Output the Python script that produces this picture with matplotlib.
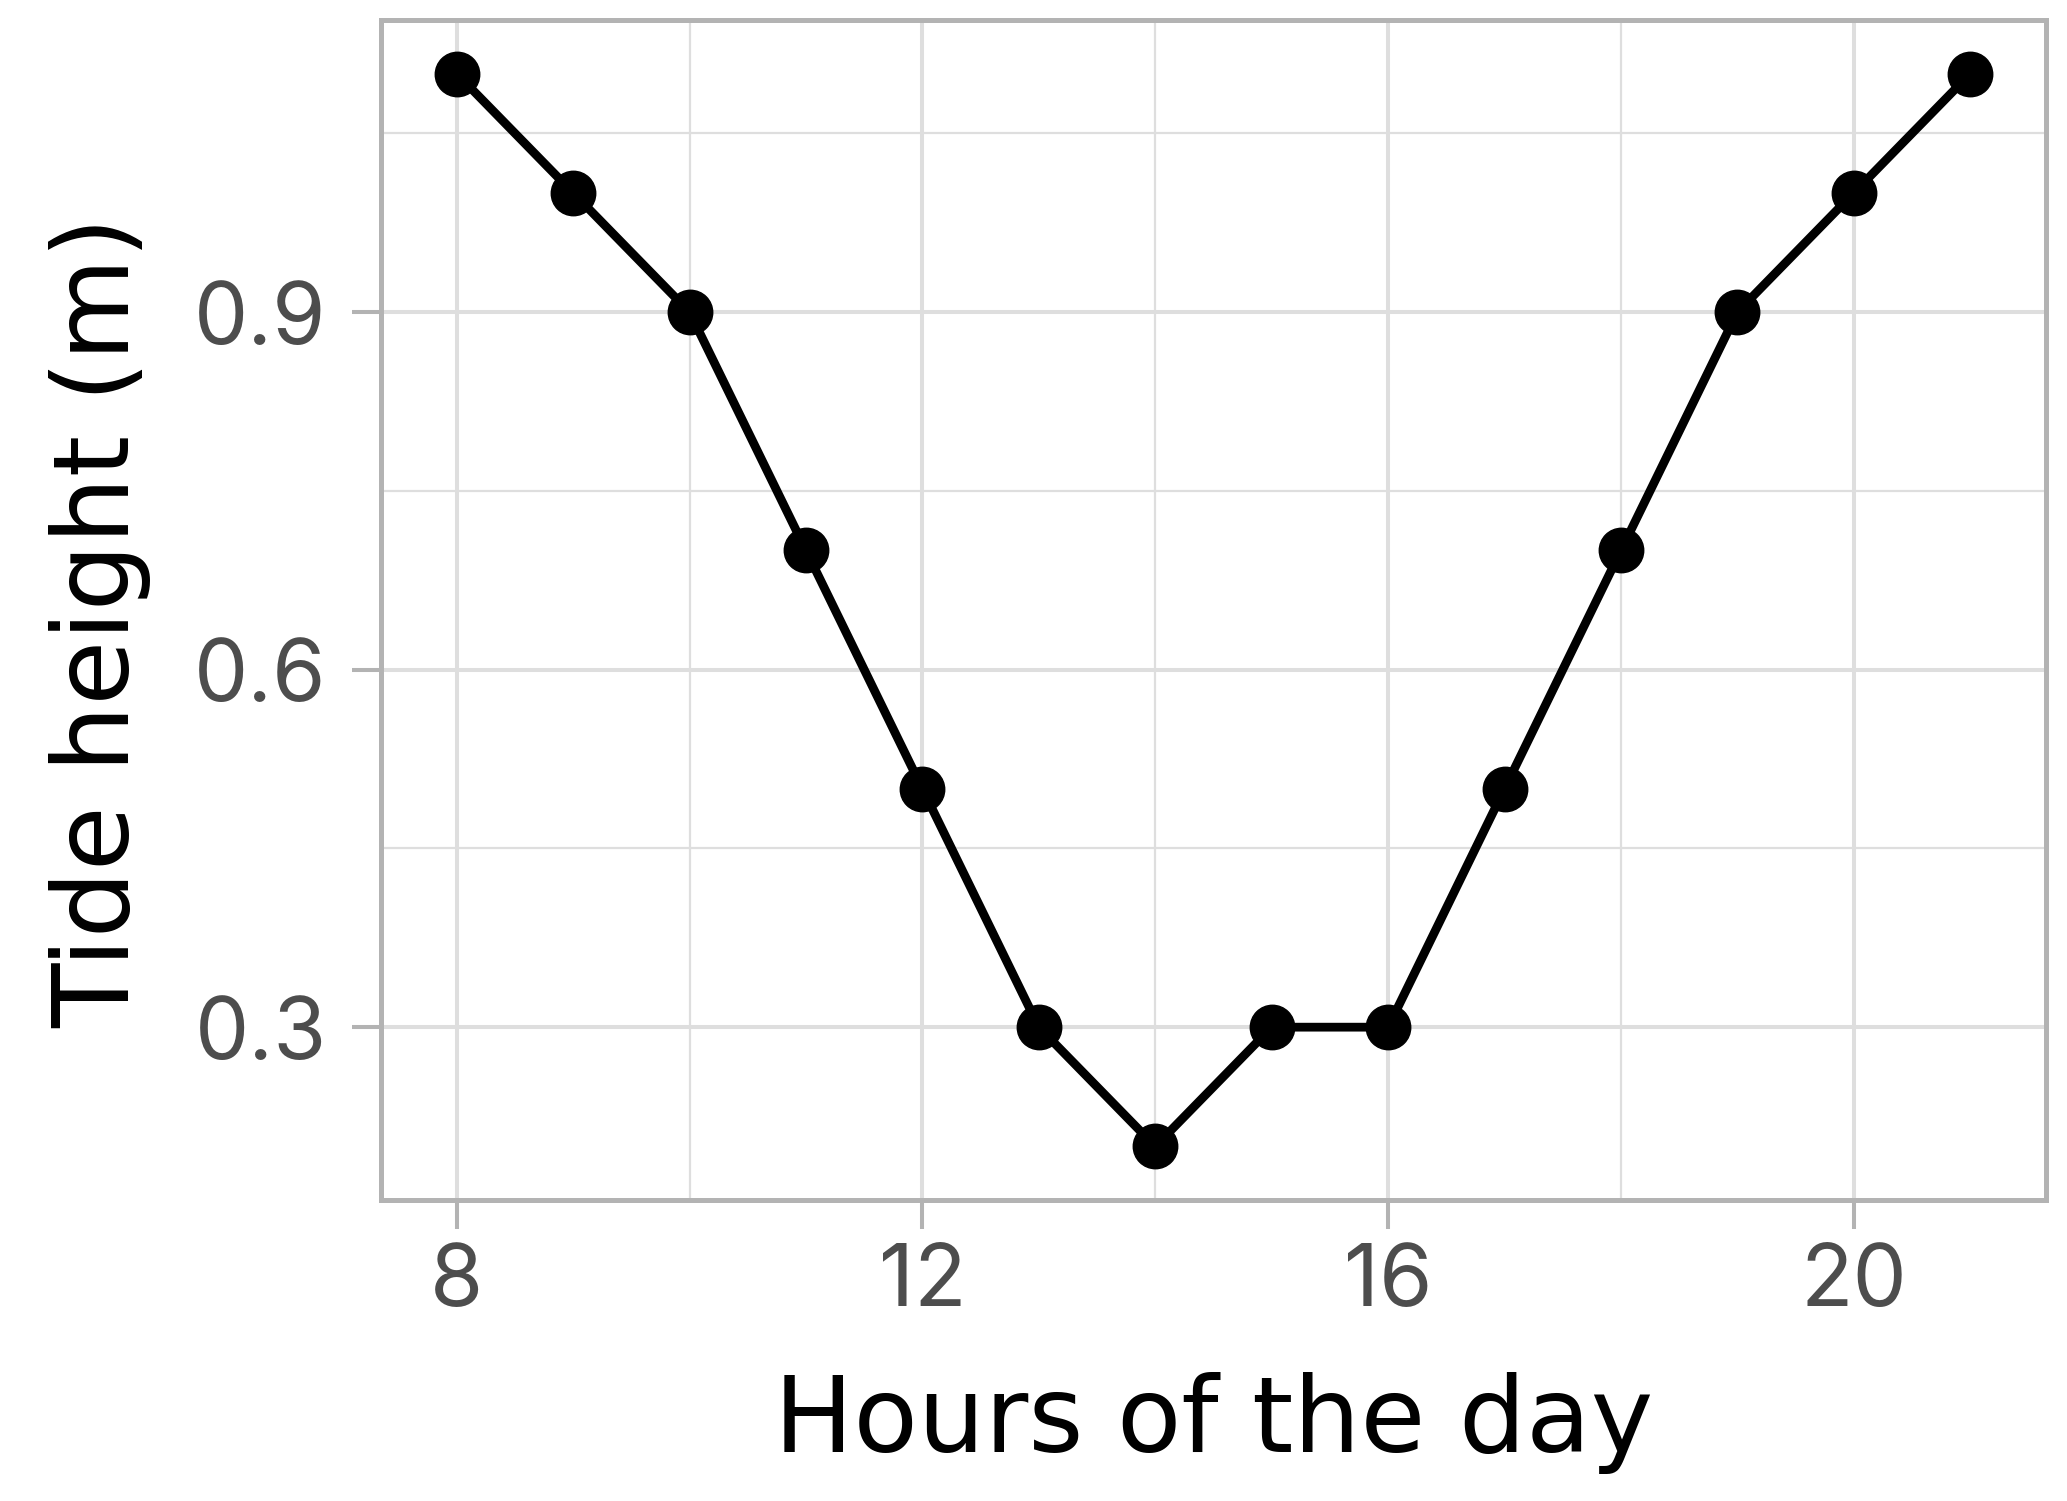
import numpy as np
import matplotlib.pyplot as plt
from matplotlib.ticker import MultipleLocator

# tide heights
hours = [8, 9, 10, 11, 12, 13, 14, 15, 16, 17, 18, 19, 20, 21]
tide = [1.1, 1.0, 0.9, 0.7, 0.5, 0.3, 0.2, 0.3, 0.3, 0.5, 0.7, 0.9, 1.0, 1.1]
x_ticks = [8, 12, 16, 20]
y_ticks = [0.3, 0.6, 0.9]

plt.rcParams['font.family'] = ['Inter', 'DejaVu Sans']

fig = plt.figure(figsize=(20.67, 15.01), dpi=100)
ax = fig.add_axes([381 / 2067, 301 / 1501, 1665 / 2067, 1180 / 1501])

ax.plot(hours, tide, color='black', lw=6.3, zorder=3)
ax.plot(hours, tide, 'o', color='black', ms=32, zorder=4)

ax.set_xlim(7.35, 21.65)
ax.set_ylim(0.155, 1.145)
ax.set_xticks(x_ticks)
ax.set_yticks(y_ticks)
ax.set_yticklabels(['0.3', '0.6', '0.9'])
ax.xaxis.set_minor_locator(MultipleLocator(2))
ax.yaxis.set_minor_locator(MultipleLocator(0.15))

ax.grid(which='major', color='#dedede', lw=2.9, zorder=0)
ax.grid(which='minor', color='#dedede', lw=1.6, zorder=0)
ax.set_axisbelow(True)
ax.tick_params(which='minor', length=0)
ax.tick_params(which='major', length=21, width=2.9, color='#b3b3b3',
               labelsize=62, labelcolor='#4d4d4d', pad=10)
ax.tick_params(axis='y', pad=18)
for s in ax.spines.values():
    s.set_color('#b3b3b3')
    s.set_linewidth(3.6)

ax.set_xlabel('Hours of the day', fontsize=76, color='black', family='DejaVu Sans')
ax.set_ylabel('Tide height (m)', fontsize=76, color='black', family='DejaVu Sans')
ax.xaxis.set_label_coords(0.5, -0.146)
ax.yaxis.set_label_coords(-0.138, 0.49)

fig.savefig('out.png', dpi=100)
